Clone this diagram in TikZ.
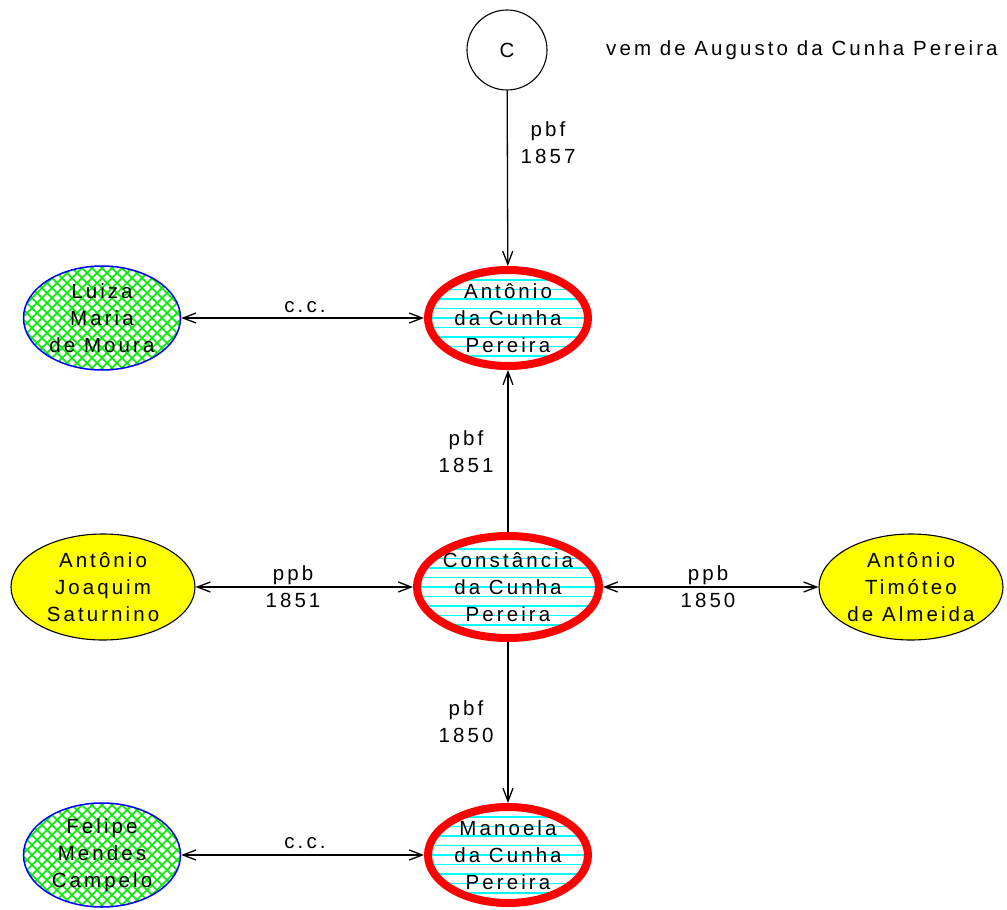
\documentclass[tikz,border=0pt]{standalone}
\usepackage{fontspec}
\setmainfont{Liberation Sans}[LetterSpace=15]
\usetikzlibrary{arrows.meta,shapes.geometric,calc}

\definecolor{kinred}{RGB}{255,0,0}
\definecolor{hatchcyan}{RGB}{0,255,255}
\definecolor{meshgreen}{RGB}{0,235,0}
\definecolor{rimblue}{RGB}{0,0,255}
\definecolor{plainyellow}{RGB}{255,255,0}

\newcommand{\lblfont}{\fontsize{20.5}{27}\selectfont}

\tikzset{
  person/.style={ellipse, inner sep=-8pt, align=center, font=\lblfont},
  kin/.style={person, draw=kinred, line width=8pt, fill=white,
    path picture={
      \foreach \k in {-66.5,-57,...,67}
        \draw[hatchcyan, line width=1.1pt]
          ([yshift=\k]path picture bounding box.center) ++(-130,0) -- ++(260,0);
    }},
  spouse/.style={person, draw=rimblue, line width=1.5pt, fill=white,
    path picture={
      \foreach \k in {-200,-190,...,200} {
        \draw[meshgreen, line width=1.6pt]
          ([xshift=\k]path picture bounding box.center) ++(-90,-90) -- ++(180,180);
        \draw[meshgreen, line width=1.6pt]
          ([xshift=\k]path picture bounding box.center) ++(-90,90) -- ++(180,-180);
      }
    }},
  other/.style={person, draw=black, line width=1.1pt, fill=plainyellow},
  link/.style={line width=1.3pt, draw=black},
  tip/.tip={Straight Barb[length=13pt,width=10pt,line width=1.3pt]},
  lbl/.style={align=center, font=\lblfont, inner sep=0pt},
}

\begin{document}
\begin{tikzpicture}[x=1pt,y=-1pt]
\useasboundingbox (0,0) rectangle (1007,910);

% people
\node[circle, draw=black, line width=1.1pt, minimum size=80pt, inner sep=0pt, font=\lblfont] (c) at (507,50) {C};
\node[lbl, anchor=west] (vem) at (606,50) {vem de Augusto da Cunha Pereira};

\node[kin, minimum width=160pt, minimum height=96pt] (antonio) at (508,318) {Antônio\\da Cunha\\Pereira};
\node[spouse, minimum width=157pt, minimum height=104pt] (luiza) at (102,318) {Luiza\\Maria\\de Moura};

\node[kin, minimum width=182pt, minimum height=102pt] (const) at (508,587) {Constância\\da Cunha\\Pereira};
\node[other, minimum width=184pt, minimum height=106pt] (satur) at (103,587) {Antônio\\Joaquim\\Saturnino};
\node[other, minimum width=184pt, minimum height=106pt] (timot) at (911,587) {Antônio\\Timóteo\\de Almeida};

\node[kin, minimum width=160pt, minimum height=96pt] (manoela) at (508,855) {Manoela\\da Cunha\\Pereira};
\node[spouse, minimum width=157pt, minimum height=104pt] (felipe) at (102,855) {Felipe\\Mendes\\Campelo};

% relations
\draw[link, -tip] (c) -- (antonio);
\node[lbl] (l1) at (548,143) {pbf\\1857};

\draw[link, tip-tip] (luiza) -- (antonio);
\node[lbl] (l2) at (305,307) {c.c.};

\draw[link, -tip] (const) -- (antonio);
\node[lbl] (l3) at (466,452) {pbf\\1851};

\draw[link, tip-tip] (satur) -- (const);
\node[lbl] (l4) at (293,587) {ppb\\1851};

\draw[link, tip-tip] (const) -- (timot);
\node[lbl] (l5) at (708,587) {ppb\\1850};

\draw[link, -tip] (const) -- (manoela);
\node[lbl] (l6) at (466,722) {pbf\\1850};

\draw[link, tip-tip] (felipe) -- (manoela);
\node[lbl] (l7) at (305,843) {c.c.};
\end{tikzpicture}
\end{document}
